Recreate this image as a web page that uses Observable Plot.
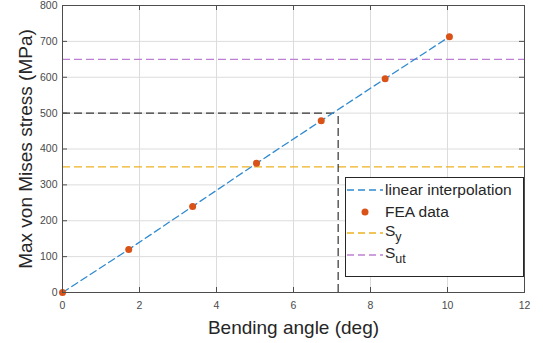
<!DOCTYPE html>
<html>
<head>
<meta charset="utf-8">
<script src="https://cdn.jsdelivr.net/npm/d3@7"></script>
<script src="https://cdn.jsdelivr.net/npm/@observablehq/plot@0.6"></script>
<style>
  html, body { margin: 0; padding: 0; background: #fff; }
  #wrap { position: relative; width: 543px; height: 343px; font-family: "Liberation Sans", Arial, sans-serif; }
  #legend { position: absolute; left: 345px; top: 177px; width: 179px; height: 100px; border: 1px solid #262626; background: #fff; box-sizing: border-box; font-size: 15.5px; color: #262626; }
  #legend .row { position: absolute; left: 0; height: 20px; display: flex; align-items: center; }
  #legend .row svg { margin-left: 1px; margin-right: 2px; }
  #legend sub { font-size: 12.5px; vertical-align: -5px; }
</style>
</head>
<body>
<div id="wrap"></div>
<script>
// Data
const angles = [0, 1.72, 3.38, 5.04, 6.72, 8.38, 10.05];
const stress = [0, 120, 240, 360, 479, 596, 713];
const yieldStrength = 350;   // S_y
const ultimateStrength = 650; // S_ut
const targetStress = 500;
const targetAngle = 7.16;
const xTicks = [0, 2, 4, 6, 8, 10, 12];
const yTicks = [0, 100, 200, 300, 400, 500, 600, 700, 800];
const xLabel = "Bending angle (deg)";
const yLabel = "Max von Mises stress (MPa)";
const legendItems = [
  {label: "linear interpolation", type: "line", color: "#2f8ad0"},
  {label: "FEA data", type: "dot", color: "#D95319"},
  {label: "S<sub>y</sub>", type: "line", color: "#EDB120"},
  {label: "S<sub>ut</sub>", type: "line", color: "#bd80d2"}
];

const pts = angles.map((a, i) => ({a, s: stress[i]}));
const W = 543, H = 343;
const mL = 62, mR = 19, mT = 5, mB = 51;
const fw = W - mL - mR, fh = H - mT - mB;

const chart = Plot.plot({
  width: W, height: H,
  marginLeft: mL, marginRight: mR, marginTop: mT, marginBottom: mB,
  style: {fontFamily: "Liberation Sans, Arial, sans-serif", background: "#fff"},
  x: {domain: [0, 12], ticks: xTicks},
  y: {domain: [0, 800], ticks: yTicks},
  marks: [
    Plot.gridX(xTicks, {stroke: "#dcdcdc", strokeOpacity: 1}),
    Plot.gridY(yTicks, {stroke: "#dcdcdc", strokeOpacity: 1}),
    Plot.ruleY([ultimateStrength], {stroke: "#bd80d2", strokeWidth: 1.2, strokeDasharray: "8,4"}),
    Plot.ruleY([yieldStrength], {stroke: "#EDB120", strokeWidth: 1.2, strokeDasharray: "8,4"}),
    Plot.ruleY([targetStress], {x1: 0, x2: targetAngle, stroke: "#333", strokeWidth: 1.2, strokeDasharray: "8,4"}),
    Plot.ruleX([targetAngle], {y1: 0, y2: targetStress, stroke: "#333", strokeWidth: 1.2, strokeDasharray: "8,4"}),
    Plot.line(pts, {x: "a", y: "s", stroke: "#2f8ad0", strokeWidth: 1.3, strokeDasharray: "7,4"}),
    Plot.dot(pts, {x: "a", y: "s", r: 3.5, fill: "#D95319", stroke: "none"}),
    Plot.frame({stroke: "#4d4d4d", strokeWidth: 1}),
    Plot.tickX(xTicks, {x: d => d, insetTop: fh - 5, stroke: "#4d4d4d"}),
    Plot.tickX(xTicks, {x: d => d, insetBottom: fh - 5, stroke: "#4d4d4d"}),
    Plot.tickY(yTicks, {y: d => d, insetRight: fw - 5, stroke: "#4d4d4d"}),
    Plot.tickY(yTicks, {y: d => d, insetLeft: fw - 5, stroke: "#4d4d4d"}),
    Plot.axisX(xTicks, {tickSize: 0, tickPadding: 9, fontSize: 10.5, color: "#4a4a4a", label: null}),
    Plot.axisY(yTicks, {tickSize: 0, tickPadding: 5, fontSize: 10.5, color: "#4a4a4a", label: null}),
    Plot.text([xLabel], {frameAnchor: "bottom", dy: 41, fontSize: 19, fill: "#262626", lineAnchor: "bottom"}),
    Plot.text([yLabel], {frameAnchor: "left", textAnchor: "middle", dx: -37, rotate: -90, fontSize: 19, fill: "#262626"})
  ]
});
chart.style.overflow = "visible";
const wrap = document.getElementById("wrap");
wrap.appendChild(chart);

const leg = document.createElement("div");
leg.id = "legend";
legendItems.forEach((it, i) => {
  const row = document.createElement("div");
  row.className = "row";
  row.style.top = (2 + i * 21.5) + "px";
  const sample = it.type === "line"
    ? `<svg width="36" height="10"><line x1="0" y1="5" x2="36" y2="5" stroke="${it.color}" stroke-width="1.3" stroke-dasharray="7,4"/></svg>`
    : `<svg width="36" height="10"><circle cx="18" cy="5" r="3.5" fill="${it.color}"/></svg>`;
  row.innerHTML = sample + `<span>${it.label}</span>`;
  leg.appendChild(row);
});
wrap.appendChild(leg);
</script>
</body>
</html>
